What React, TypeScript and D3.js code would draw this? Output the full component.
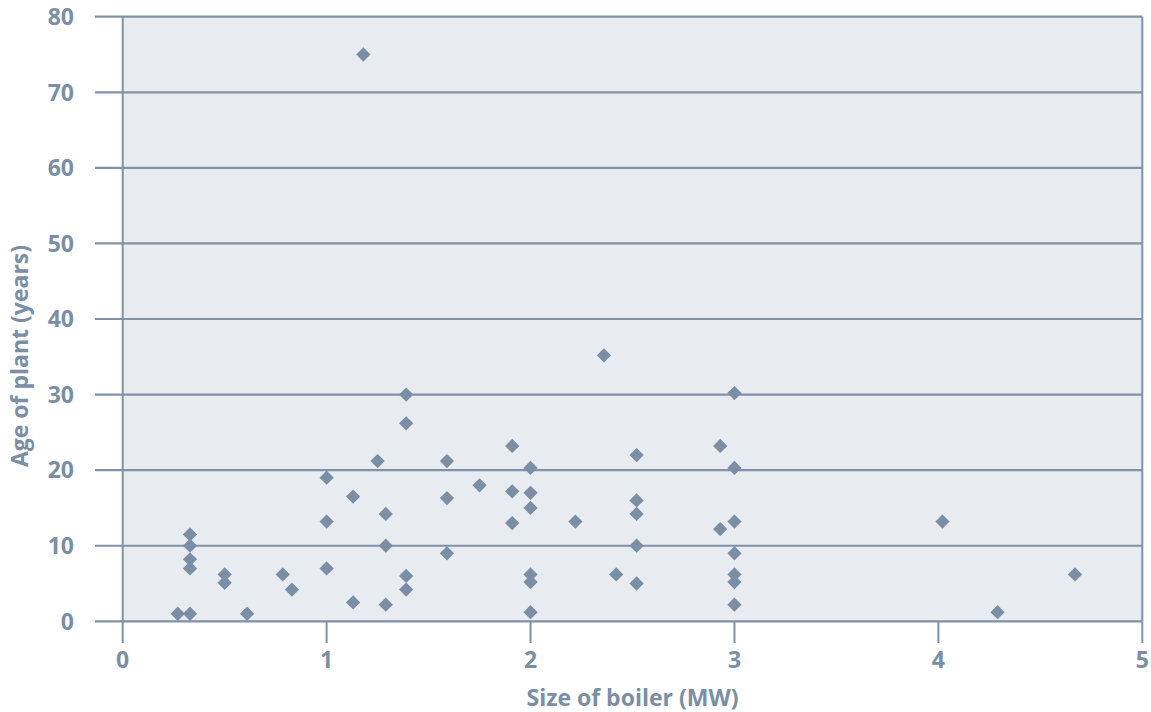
import React from "react";
import * as d3 from "d3";

const boilerSizeMW: number[] = [
  0.27, 0.33, 0.33, 0.33, 0.33, 0.33, 0.5, 0.5, 0.61, 0.785, 0.83,
  1.0, 1.0, 1.0, 1.13, 1.13, 1.18, 1.25, 1.29, 1.29, 1.29,
  1.39, 1.39, 1.39, 1.39, 1.59, 1.59, 1.59, 1.75, 1.91, 1.91, 1.91,
  2.0, 2.0, 2.0, 2.0, 2.0, 2.0, 2.22, 2.36, 2.42,
  2.52, 2.52, 2.52, 2.52, 2.52, 2.93, 2.93,
  3.0, 3.0, 3.0, 3.0, 3.0, 3.0, 3.0, 4.02, 4.29, 4.67,
];
const plantAgeYears: number[] = [
  1, 1, 11.5, 10, 8.2, 7, 6.2, 5.1, 1, 6.2, 4.2,
  19, 13.2, 7, 16.5, 2.5, 75, 21.2, 14.2, 10, 2.2,
  30, 26.2, 6, 4.2, 21.2, 16.3, 9, 18, 23.2, 17.2, 13,
  20.3, 17, 15, 6.2, 5.2, 1.2, 13.2, 35.2, 6.2,
  22, 16, 14.2, 10, 5, 23.2, 12.2,
  30.2, 20.3, 13.2, 9, 6.2, 5.2, 2.2, 13.2, 1.2, 6.2,
];
const xTicks: number[] = [0, 1, 2, 3, 4, 5];
const yTicks: number[] = [0, 10, 20, 30, 40, 50, 60, 70, 80];
const xTitle = "Size of boiler (MW)";
const yTitle = "Age of plant (years)";

const W = 1151;
const H = 712;
const left = 122.7;
const right = 1142.3;
const top = 16.7;
const bottom = 621.3;

const textColor = "#7a8ea5";
const lineColor = "#7f92a7";
const markColor = "#7a8ea6";
const bg = "#e8ebf0";
const font = "'Open Sans', 'Noto Sans', sans-serif";
const fs = 23;

export default function App() {
  const x = d3.scaleLinear().domain([0, 5]).range([left, right]);
  const y = d3.scaleLinear().domain([0, 80]).range([bottom, top]);
  const diamond = d3.symbol().type(d3.symbolDiamond2).size(130)();
  const points = boilerSizeMW.map((v, i) => ({ x: v, y: plantAgeYears[i] }));

  return (
    <div style={{ position: "absolute", left: 0, top: 0 }}>
      <svg width={W} height={H} style={{ display: "block", background: "#fff" }}>
        <rect x={left} y={top} width={right - left} height={bottom - top} fill={bg} />
        {yTicks.map((t) => (
          <g key={"y" + t}>
            <line x1={95} x2={right} y1={y(t)} y2={y(t)} stroke={lineColor} strokeWidth={2.2} />
            <text
              x={74}
              y={y(t)}
              dy="0.36em"
              textAnchor="end"
              fontFamily={font}
              fontWeight={700}
              fontSize={fs}
              fill={textColor}
            >
              {t}
            </text>
          </g>
        ))}
        <line x1={left} x2={left} y1={top} y2={bottom} stroke={lineColor} strokeWidth={2} />
        <line x1={right} x2={right} y1={top} y2={bottom} stroke={lineColor} strokeWidth={2} />
        {xTicks.map((t) => (
          <g key={"x" + t}>
            <line x1={x(t)} x2={x(t)} y1={bottom} y2={643} stroke={lineColor} strokeWidth={2} />
            <text
              x={x(t)}
              y={668}
              textAnchor="middle"
              fontFamily={font}
              fontWeight={700}
              fontSize={fs}
              fill={textColor}
            >
              {t}
            </text>
          </g>
        ))}
        {points.map((p, i) => (
          <path key={i} d={diamond ?? ""} transform={`translate(${x(p.x)},${y(p.y)})`} fill={markColor} />
        ))}
        <text
          x={(left + right) / 2}
          y={706}
          textAnchor="middle"
          fontFamily={font}
          fontWeight={700}
          fontSize={fs}
          fill={textColor}
        >
          {xTitle}
        </text>
        <text
          transform={`translate(28,356) rotate(-90)`}
          textAnchor="middle"
          fontFamily={font}
          fontWeight={700}
          fontSize={fs}
          fill={textColor}
        >
          {yTitle}
        </text>
      </svg>
    </div>
  );
}
